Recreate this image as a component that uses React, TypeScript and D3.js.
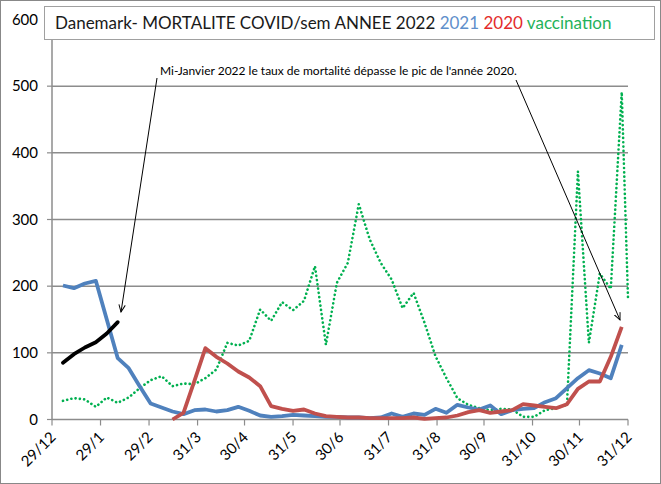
import React from 'react';
import * as d3 from 'd3';

const weeks: number[] = d3.range(1, 53);
const mort2021: number[] = [201,197,204,208,150,92,77,50,24,18,12,8,14,15,12,14,19,13,6,4,5,7,6,5,4,4,3,3,2,3,9,4,9,7,16,10,22,18,15,21,8,14,16,17,26,32,47,62,74,69,62,112];
const mort2020: (number | null)[] = [null,null,null,null,null,null,null,null,null,null,0,10,58,107,94,84,72,63,50,20,16,13,15,9,5,4,3,3,2,2,2,2,3,1,2,3,6,11,14,10,12,14,23,21,19,17,23,46,57,57,94,139];
const mort2022: number[] = [85,98,108,116,129,146];
const vaccination: number[] = [28,32,30,19,33,25,33,47,59,65,50,54,53,62,75,115,111,118,165,148,176,164,178,230,112,205,235,323,270,235,210,167,190,145,95,62,32,22,17,14,16,15,4,4,14,17,22,372,115,219,196,491,182];
const tickLabels: string[] = ['29/12','29/1','29/2','31/3','30/4','31/5','30/6','31/7','31/8','30/9','31/10','30/11','31/12'];
const tickDates: Date[] = [new Date(2019,11,29),new Date(2020,0,29),new Date(2020,1,29),new Date(2020,2,31),new Date(2020,3,30),new Date(2020,4,31),new Date(2020,5,30),new Date(2020,6,31),new Date(2020,7,31),new Date(2020,8,30),new Date(2020,9,31),new Date(2020,10,30),new Date(2020,11,31)];
const yTicks: number[] = [0,100,200,300,400,500,600];

const FONT = 'Lato, Carlito, sans-serif';

export default function App() {
  const W = 661, H = 484;
  const x = d3.scaleTime().domain([tickDates[0], tickDates[tickDates.length - 1]]).range([52, 628]).clamp(true);
  const y = d3.scaleLinear().domain([0, 600]).range([419.5, 19.5]);
  const weekDate = (i: number) => new Date(2020, 0, 5 + 7 * i);
  const mk = (vals: (number | null)[]) => {
    const gen = d3.line<[number, number | null]>()
      .defined(d => d[1] != null)
      .x(d => x(weekDate(d[0])))
      .y(d => y(d[1] as number));
    return gen(vals.map((v, i) => [i, v] as [number, number | null])) || '';
  };
  const gridCol = '#8c8c8c';
  return (
    <div style={{ position: 'fixed', left: 0, top: 0 }}>
      <svg width={W} height={H} style={{ display: 'block', background: '#fff' }} fontFamily={FONT}>
        <defs>
          <marker id="arr" viewBox="0 0 10 10" refX="9" refY="5" markerWidth="8" markerHeight="8" orient="auto-start-reverse" markerUnits="userSpaceOnUse">
            <path d="M0,1 L9,5 L0,9" fill="none" stroke="#000" strokeWidth="1.2" />
          </marker>
        </defs>
        <rect x={0.5} y={0.5} width={W - 1} height={H - 1} fill="#fff" stroke="#888" strokeWidth={1} />
        {yTicks.map(t => (
          <g key={t}>
            {t > 0 && <line x1={52} x2={628} y1={y(t)} y2={y(t)} stroke={gridCol} strokeWidth={1.5} />}
            <line x1={47} x2={52} y1={y(t)} y2={y(t)} stroke={gridCol} strokeWidth={1.2} />
            <text x={38} y={y(t)} dy="0.35em" textAnchor="end" fontSize={15} fill="#000">{t}</text>
          </g>
        ))}
        <line x1={52} x2={52} y1={y(600)} y2={y(0)} stroke={gridCol} strokeWidth={1.5} />
        <line x1={52} x2={628} y1={y(0)} y2={y(0)} stroke={gridCol} strokeWidth={1.5} />
        {tickDates.map((d, i) => (
          <g key={i}>
            <line x1={x(d)} x2={x(d)} y1={y(0)} y2={y(0) + 6} stroke={gridCol} strokeWidth={1.2} />
            <text transform={`translate(${x(d) + 1},${y(0) + 15}) rotate(-45)`} textAnchor="end" dy="0.35em" fontSize={15} fill="#000">{tickLabels[i]}</text>
          </g>
        ))}
        <path d={mk(vaccination)} fill="none" stroke="#00B050" strokeWidth={2.6} strokeDasharray="0.1 4.2" strokeLinecap="round" />
        <path d={mk(mort2021)} fill="none" stroke="#4F81BD" strokeWidth={3.8} strokeLinejoin="round" />
        <path d={mk(mort2020)} fill="none" stroke="#C0504D" strokeWidth={3.8} strokeLinejoin="round" />
        <path d={mk(mort2022)} fill="none" stroke="#000" strokeWidth={3.8} strokeLinejoin="round" strokeLinecap="round" />
        <rect x={44.5} y={6.5} width={610} height={33} fill="#fff" stroke="#a0a0a0" strokeWidth={1} />
        <text x={55} y={29} fontSize={17} fill="#1a1a1a">
          Danemark- MORTALITE COVID/sem ANNEE 2022 <tspan fill="#5F8FCB">2021</tspan> <tspan fill="#E32B2B">2020</tspan> <tspan fill="#1FB25A">vaccination</tspan>
        </text>
        <text x={160} y={75} fontSize={12} fill="#000">Mi-Janvier 2022 le taux de mortalité dépasse le pic de l'année 2020.</text>
        <line x1={157} y1={78} x2={121} y2={312} stroke="#000" strokeWidth={1} markerEnd="url(#arr)" />
        <line x1={516} y1={80} x2={620} y2={320} stroke="#000" strokeWidth={1} markerEnd="url(#arr)" />
      </svg>
    </div>
  );
}
